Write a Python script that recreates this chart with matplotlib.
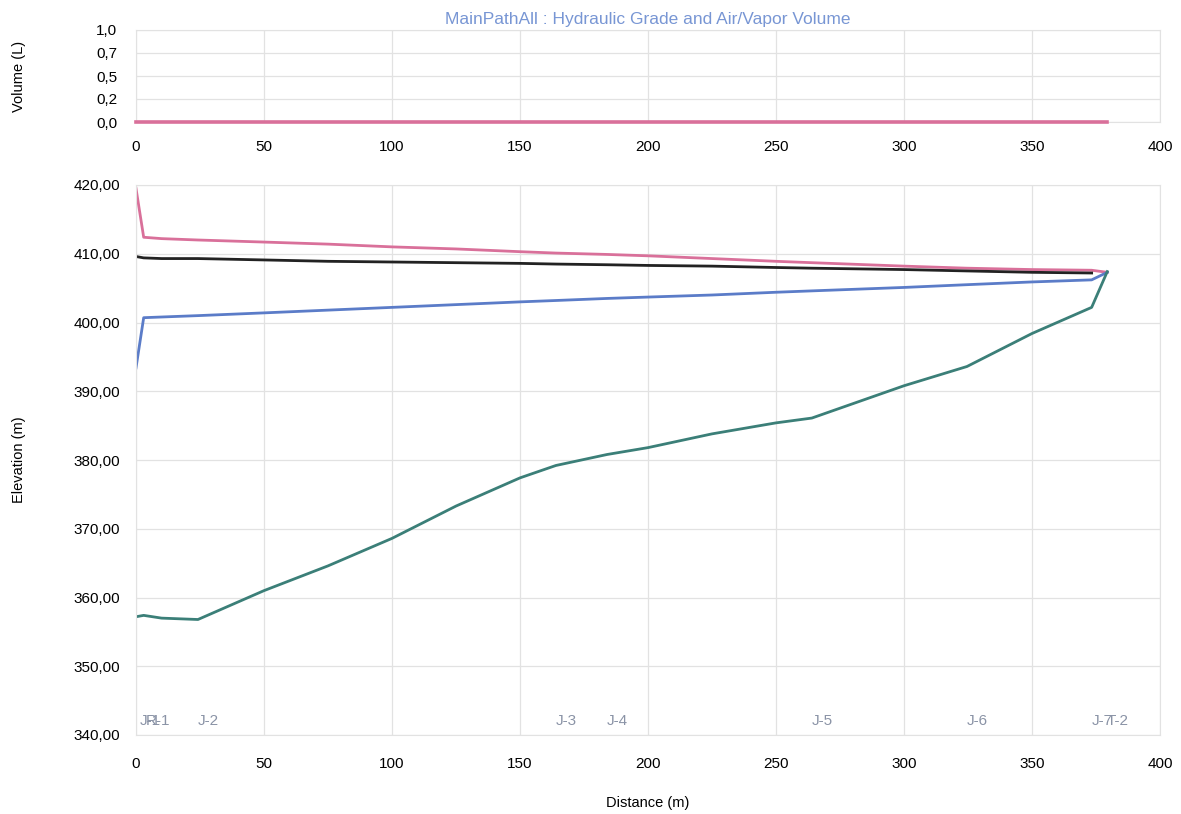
import matplotlib.pyplot as plt
import numpy as np

plt.rcParams['font.family'] = ['Liberation Sans', 'DejaVu Sans']

# distance along the path (m)
dist = [0, 3, 10, 24.2, 50, 75, 100, 125, 150, 164, 184, 200, 225, 250, 264,
        300, 324.6, 350, 373.3, 379.4]

# ground elevation (m)
elevation = [357.2, 357.4, 357.0, 356.8, 361.0, 364.6, 368.6, 373.3, 377.4,
             379.2, 380.8, 381.8, 383.8, 385.4, 386.1, 390.8, 393.6, 398.4,
             402.2, 407.4]

# hydraulic grade max / initial / min (m)
hgl_max = [419.5, 412.4, 412.2, 412.0, 411.7, 411.4, 411.0, 410.7, 410.3,
           410.1, 409.9, 409.7, 409.3, 408.9, 408.7, 408.2, 407.9, 407.7,
           407.6, 407.3]
hgl_init = [409.6, 409.4, 409.3, 409.3, 409.1, 408.9, 408.8, 408.7, 408.6,
            408.5, 408.4, 408.3, 408.2, 408.0, 407.9, 407.7, 407.5, 407.3,
            407.2, 407.2]
hgl_min = [393.4, 400.7, 400.8, 401.0, 401.4, 401.8, 402.2, 402.6, 403.0,
           403.2, 403.5, 403.7, 404.0, 404.4, 404.6, 405.1, 405.5, 405.9,
           406.2, 407.3]

# air/vapor volume (L)
vol_dist = [0, 379.4]
volume = [0.0, 0.0]

node_names = ['J-1', 'R-1', 'J-2', 'J-3', 'J-4', 'J-5', 'J-6', 'J-7', 'T-2']
node_x = [1.5, 4, 24.2, 164, 184, 264, 324.6, 373.3, 379]

pink = '#d9709a'
blue = '#5b7cc8'
teal = '#3b7f78'
grid_c = '#e2e2e2'

fig = plt.figure(figsize=(11.81, 8.14), dpi=100)
W, H = 1181, 814
ax_top = fig.add_axes([136 / W, 1 - 122 / H, 1024 / W, 92 / H])
ax = fig.add_axes([136 / W, 1 - 735 / H, 1024 / W, 550 / H])

for a in (ax_top, ax):
    for s in a.spines.values():
        s.set_color(grid_c)
    a.tick_params(length=0, labelsize=11)
    a.grid(True, color=grid_c, linewidth=0.9)
    a.set_axisbelow(True)
    a.set_xlim(0, 400)
    a.set_xticks(np.arange(0, 401, 50))

# top panel: volume
ax_top.plot(vol_dist, volume, color=pink, linewidth=2.6, clip_on=False, zorder=5)
ax_top.set_ylim(0, 1)
ax_top.set_yticks([0, 0.25, 0.5, 0.75, 1.0])
ax_top.set_yticklabels(['0,0', '0,2', '0,5', '0,7', '1,0'])
ax_top.tick_params(axis='y', pad=13.5)
ax_top.tick_params(axis='x', pad=13)
ax_top.set_ylabel('Volume (L)', fontsize=10.5)
ax_top.yaxis.set_label_coords(-0.107, 0.5)
ax_top.set_title('MainPathAll : Hydraulic Grade and Air/Vapor Volume',
                 color='#7896d4', fontsize=12.5, pad=4)

# bottom panel: profile
ax.plot(dist, hgl_max, color=pink, linewidth=2)
ax.plot(dist[:-1], hgl_init[:-1], color='#222222', linewidth=2)
ax.plot(dist, hgl_min, color=blue, linewidth=2)
ax.plot(dist, elevation, color=teal, linewidth=2)
ax.set_ylim(340, 420)
ax.set_yticks(np.arange(340, 421, 10))
ax.set_yticklabels(['%d,00' % v for v in range(340, 421, 10)])
ax.tick_params(axis='y', pad=11.5)
ax.tick_params(axis='x', pad=16)
ax.set_ylabel('Elevation (m)', fontsize=10.5)
ax.yaxis.set_label_coords(-0.107, 0.5)
ax.set_xlabel('Distance (m)', fontsize=10.5, labelpad=18)

for name, x in zip(node_names, node_x):
    ax.text(x, 341, name, color='#8a93a6', fontsize=11, ha='left', va='bottom')

fig.savefig('out.png', dpi=100)
